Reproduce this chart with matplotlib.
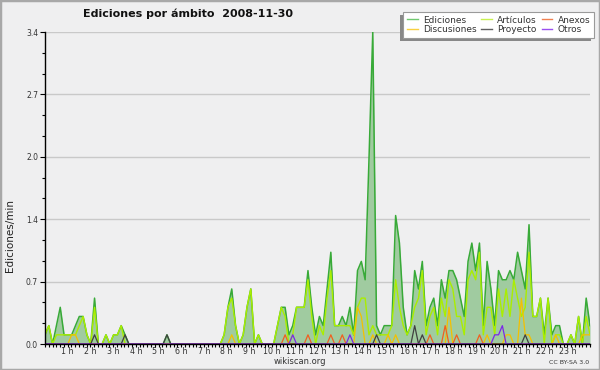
import matplotlib
matplotlib.use("Agg")
import matplotlib.pyplot as plt
import numpy as np
from matplotlib.lines import Line2D
from matplotlib.patches import Rectangle
from matplotlib.ticker import FixedLocator, NullFormatter

# Ediciones por minuto, una muestra cada 10 minutos (144 muestras, 00:00 - 23:50)
ediciones = [
    0.1, 0.2, 0.0, 0.2, 0.4, 0.1, 0.1, 0.1, 0.2, 0.3, 0.3, 0.1,
    0.0, 0.5, 0.0, 0.0, 0.1, 0.0, 0.1, 0.1, 0.2, 0.1, 0.0, 0.0,
    0.0, 0.0, 0.0, 0.0, 0.0, 0.0, 0.0, 0.0, 0.1, 0.0, 0.0, 0.0,
    0.0, 0.0, 0.0, 0.0, 0.0, 0.0, 0.0, 0.0, 0.0, 0.0, 0.0, 0.1,
    0.4, 0.6, 0.2, 0.0, 0.1, 0.4, 0.6, 0.0, 0.1, 0.0, 0.0, 0.0,
    0.0, 0.2, 0.4, 0.4, 0.1, 0.2, 0.4, 0.4, 0.4, 0.8, 0.4, 0.1,
    0.3, 0.2, 0.6, 1.0, 0.2, 0.2, 0.3, 0.2, 0.4, 0.1, 0.8, 0.9,
    0.7, 2.0, 3.4, 0.2, 0.1, 0.2, 0.2, 0.2, 1.4, 1.1, 0.4, 0.1,
    0.2, 0.8, 0.6, 0.9, 0.2, 0.4, 0.5, 0.2, 0.7, 0.5, 0.8, 0.8,
    0.7, 0.5, 0.3, 0.9, 1.1, 0.8, 1.1, 0.2, 0.9, 0.6, 0.2, 0.8,
    0.7, 0.7, 0.8, 0.7, 1.0, 0.8, 0.6, 1.3, 0.3, 0.3, 0.5, 0.1,
    0.5, 0.1, 0.2, 0.2, 0.0, 0.0, 0.1, 0.0, 0.3, 0.0, 0.5, 0.2,
]
articulos = [
    0.1, 0.2, 0.0, 0.1, 0.1, 0.1, 0.1, 0.1, 0.1, 0.2, 0.3, 0.1,
    0.0, 0.4, 0.0, 0.0, 0.1, 0.0, 0.1, 0.1, 0.2, 0.0, 0.0, 0.0,
    0.0, 0.0, 0.0, 0.0, 0.0, 0.0, 0.0, 0.0, 0.0, 0.0, 0.0, 0.0,
    0.0, 0.0, 0.0, 0.0, 0.0, 0.0, 0.0, 0.0, 0.0, 0.0, 0.0, 0.1,
    0.4, 0.5, 0.2, 0.0, 0.1, 0.4, 0.6, 0.0, 0.1, 0.0, 0.0, 0.0,
    0.0, 0.2, 0.4, 0.3, 0.0, 0.1, 0.4, 0.4, 0.4, 0.7, 0.3, 0.0,
    0.2, 0.1, 0.5, 0.8, 0.2, 0.2, 0.2, 0.2, 0.2, 0.1, 0.4, 0.5,
    0.5, 0.1, 0.2, 0.1, 0.1, 0.1, 0.1, 0.2, 0.7, 0.4, 0.2, 0.1,
    0.2, 0.4, 0.5, 0.8, 0.1, 0.3, 0.4, 0.1, 0.5, 0.3, 0.7, 0.6,
    0.3, 0.3, 0.1, 0.7, 0.8, 0.7, 1.0, 0.1, 0.4, 0.4, 0.1, 0.6,
    0.3, 0.6, 0.3, 0.7, 0.5, 0.3, 0.4, 1.0, 0.3, 0.3, 0.5, 0.0,
    0.5, 0.0, 0.1, 0.1, 0.0, 0.0, 0.1, 0.0, 0.3, 0.0, 0.3, 0.1,
]
# series pequeñas: {muestra: valor}, el resto es 0
discusiones = {7: 0.1, 8: 0.1, 49: 0.1, 82: 0.4, 83: 0.3, 86: 0.1, 90: 0.1,
               92: 0.1, 106: 0.4, 116: 0.1, 121: 0.1, 122: 0.1, 125: 0.5,
               126: 0.1, 127: 0.1, 134: 0.1, 141: 0.1, 142: 0.1, 143: 0.1}
anexos = {63: 0.1, 69: 0.1, 75: 0.1, 78: 0.1, 101: 0.1, 105: 0.2, 108: 0.1, 114: 0.1}
proyecto = {13: 0.1, 21: 0.1, 32: 0.1, 87: 0.1, 97: 0.2, 99: 0.1, 126: 0.1}
otros = {65: 0.1, 80: 0.1, 118: 0.1, 119: 0.1, 120: 0.2}

etiquetas_y = ['0.0', '0.7', '1.4', '2.0', '2.7', '3.4']
titulo = 'Ediciones por ámbito  2008-11-30'

n = len(ediciones)
horas = np.arange(n) * 24.0 / (n - 1)


def expandir(d):
    v = np.zeros(n)
    for k, val in d.items():
        v[k] = val
    return v


fondo = '#efeff0'
fig = plt.figure(figsize=(6, 3.7), dpi=100, facecolor=fondo)
ax = fig.add_axes([45 / 600, 26 / 370, 545 / 600, 312 / 370])
ax.set_facecolor(fondo)

ax.fill_between(horas, 0, ediciones, color='#a0cba0', lw=0, zorder=2)
ax.plot(horas, ediciones, color='#38aa38', lw=1.1, zorder=3)
ax.plot(horas, articulos, color='#aaee00', lw=1.0, zorder=4)
ax.plot(horas, expandir(discusiones), color='#f4c000', lw=0.9, zorder=5)
ax.plot(horas, expandir(anexos), color='#f06020', lw=0.9, zorder=5)
ax.plot(horas, expandir(proyecto), color='#404040', lw=0.9, zorder=5)
ax.plot(horas, expandir(otros), color='#7a28e8', lw=0.9, zorder=5)

ax.set_xlim(0, 24)
ax.set_ylim(0, 3.4)

yt = np.linspace(0, 3.4, 6)
ax.yaxis.set_major_locator(FixedLocator(yt))
ax.set_yticklabels(etiquetas_y)
ax.yaxis.set_minor_locator(FixedLocator(np.linspace(0, 3.4, 16)))
ax.yaxis.grid(True, color='#c9c9c9', lw=1)
ax.set_axisbelow(True)

ax.xaxis.set_major_locator(FixedLocator(np.arange(0, 25)))
ax.set_xticklabels([''] + ['%d h' % h for h in range(1, 24)] + [''])
ax.xaxis.set_minor_locator(FixedLocator(np.arange(0, 24 * 6 + 1) / 6.0))
ax.xaxis.set_minor_formatter(NullFormatter())

ax.tick_params(axis='y', which='major', labelsize=5.5, labelcolor='#333333',
               length=3.5, width=0.8, pad=1.5, color='black')
ax.tick_params(axis='x', which='major', labelsize=5.7, labelcolor='#333333',
               length=2.5, width=0.8, pad=0, color='black')
ax.tick_params(axis='both', which='minor', length=2.5, width=0.8, color='black')

for s in ('top', 'right'):
    ax.spines[s].set_visible(False)
for s in ('left', 'bottom'):
    ax.spines[s].set_linewidth(1.0)
    ax.spines[s].set_zorder(10)

fig.text(188 / 600, 1 - 14 / 370, titulo, ha='center', va='center',
         fontsize=8, fontweight='bold', color='#111111')
fig.text(10 / 600, 1 - 235 / 370, 'Ediciones/min', rotation=90, ha='center',
         va='center', fontsize=7.5, color='#222222')
fig.text(0.5, 1 - 362 / 370, 'wikiscan.org', ha='center', va='center',
         fontsize=6, color='#333333')
fig.text(589 / 600, 1 - 362 / 370, 'CC BY-SA 3.0', ha='right', va='center',
         fontsize=4.5, color='#333333')

nombres = ['Ediciones', 'Discusiones', 'Artículos', 'Proyecto', 'Anexos', 'Otros']
colores = ['#70c870', '#f8d040', '#c8f050', '#606060', '#f08050', '#9a50f0']
handles = [Line2D([0], [0], color=c, lw=1.0) for c in colores]
leg = fig.legend(handles, nombres, loc='upper right', ncol=3,
                 bbox_to_anchor=(594 / 600, 1 - 12 / 370), fontsize=6.5,
                 frameon=True, fancybox=False, framealpha=1, facecolor='white',
                 edgecolor='#9a9a9a', borderpad=0.4, handlelength=1.2,
                 handletextpad=0.6, columnspacing=0.5, labelspacing=0.05,
                 borderaxespad=0)
for t in leg.get_texts():
    t.set_color('#333333')
leg.get_frame().set_linewidth(0.8)
leg.set_zorder(20)

fig.canvas.draw()
bb = leg.get_window_extent().transformed(fig.transFigure.inverted())
sombra = Rectangle((bb.x0 - 3 / 600, bb.y0 - 3 / 370), bb.width, bb.height,
                   transform=fig.transFigure, facecolor='#888888', lw=0, zorder=15)
fig.patches.append(sombra)

fig.patches.append(Rectangle((0, 0), 1, 1, transform=fig.transFigure, fill=False,
                             edgecolor='#a8a8a8', lw=2.5, zorder=30))

fig.savefig('out.png', dpi=100, facecolor=fondo)
